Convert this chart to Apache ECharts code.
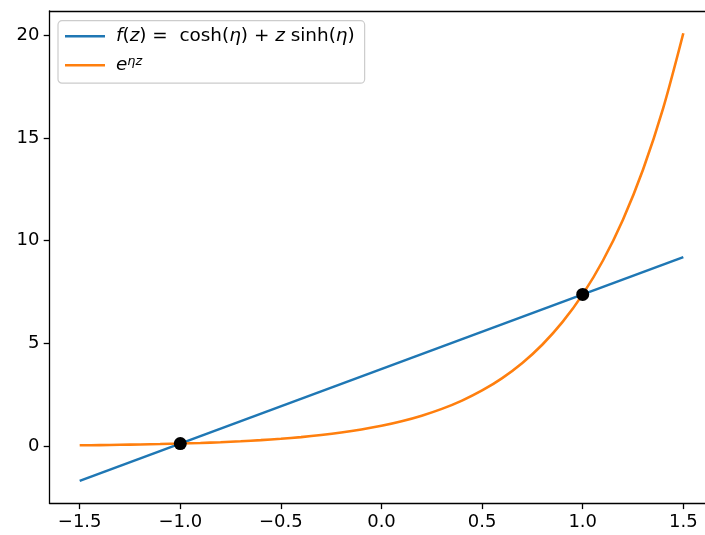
<!DOCTYPE html>
<html>
<head>
<meta charset="utf-8">
<script src="https://cdn.jsdelivr.net/npm/echarts@6/dist/echarts.min.js"></script>
<style>html,body{margin:0;padding:0;background:#fff;overflow:hidden;width:705px;height:535px}#c{width:714px;height:535px}</style>
</head>
<body>
<div id="c"></div>
<script>
const zValues = [-1.5,-1.4,-1.3,-1.2,-1.1,-1.0,-0.9,-0.8,-0.7,-0.6,-0.5,-0.4,-0.3,-0.2,-0.1,0.0,0.1,0.2,0.3,0.4,0.5,0.6,0.7,0.8,0.9,1.0,1.1,1.2,1.3,1.4,1.5];
const expValues = [0.050,0.061,0.074,0.091,0.111,0.135,0.165,0.202,0.247,0.301,0.368,0.449,0.549,0.670,0.819,1.000,1.221,1.492,1.822,2.226,2.718,3.320,4.055,4.953,6.050,7.389,9.025,11.023,13.464,16.445,20.086];
const lineZ = [-1.5, 1.5];
const lineValues = [-1.68, 9.20];
const crossZ = [-1.0, 1.0];
const crossValues = [0.135, 7.389];
const xTicks = [-1.5,-1.0,-0.5,0.0,0.5,1.0,1.5];
const yTicks = [0,5,10,15,20];

const FONT = 'DejaVu Sans';
const FS = 18;
const LFS = 18.4;
const minus = v => String(v).replace('-', '\u2212');

const chart = echarts.init(document.getElementById('c'), null, {renderer:'canvas'});
chart.setOption({
  animation: false,
  backgroundColor: '#ffffff',
  grid: {left: 49.5, top: 10.8, right: 0.5, bottom: 31.7, show: false, containLabel: false},
  xAxis: [{
    type: 'value', min: -1.65, max: 1.65,
    axisLine: {show: true, onZero: false, lineStyle: {color: '#000', width: 1.3}},
    axisTick: {show: true, length: 5.8, lineStyle: {color: '#000', width: 1.3}, customValues: xTicks},
    axisLabel: {customValues: xTicks, margin: 10, color: '#000', fontFamily: FONT, fontSize: FS,
      formatter: v => minus(v.toFixed(1))},
    splitLine: {show: false}
  }, {
    type: 'value', position: 'top', min: -1.65, max: 1.65,
    axisLine: {show: true, onZero: false, lineStyle: {color: '#000', width: 1.3}},
    axisTick: {show: false}, axisLabel: {show: false}, splitLine: {show: false}
  }],
  yAxis: {
    type: 'value', min: -2.77, max: 21.18,
    axisLine: {show: true, onZero: false, lineStyle: {color: '#000', width: 1.3}},
    axisTick: {show: true, length: 5.8, lineStyle: {color: '#000', width: 1.3}, customValues: yTicks},
    axisLabel: {customValues: yTicks, margin: 10, color: '#000', fontFamily: FONT, fontSize: FS,
      formatter: v => minus(Math.round(v))},
    splitLine: {show: false}
  },
  legend: {
    orient: 'vertical', left: 58, top: 20.7,
    padding: [5, 10, 7.5, 7],
    itemGap: 8, itemWidth: 40, itemHeight: 2.6, icon: 'rect',
    backgroundColor: 'rgba(255,255,255,0.8)', borderColor: '#cccccc', borderWidth: 1.2, borderRadius: 4,
    data: ['f', 'e'],
    formatter: function (name) {
      if (name === 'f') return '{i|f}({i|z}) =  cosh({i|\u03b7}) + {i|z} sinh({i|\u03b7})';
      return '{i|e}{sup|\u03b7z}';
    },
    textStyle: {
      fontFamily: FONT, fontSize: LFS, color: '#000', lineHeight: 21, padding: [0, 0, 0, 6],
      rich: {
        i: {fontStyle: 'italic', fontFamily: FONT, fontSize: LFS, lineHeight: 21, color: '#000'},
        sup: {fontStyle: 'italic', fontFamily: FONT, fontSize: 12.8, lineHeight: 21, verticalAlign: 'top', padding: [0, 0, 8, 0], color: '#000'}
      }
    }
  },
  series: [
    {name: 'f', type: 'line', data: lineZ.map((z, i) => [z, lineValues[i]]),
      showSymbol: false, symbol: 'none', color: '#1f77b4', lineStyle: {width: 2.6, color: '#1f77b4'}, z: 2},
    {name: 'e', type: 'line', data: zValues.map((z, i) => [z, expValues[i]]), smooth: 0.3,
      showSymbol: false, symbol: 'none', color: '#ff7f0e', lineStyle: {width: 2.6, color: '#ff7f0e'}, z: 3},
    {name: 'pts', type: 'scatter', data: crossZ.map((z, i) => [z, crossValues[i]]),
      symbol: 'circle', symbolSize: 13, itemStyle: {color: '#000', opacity: 1}, z: 5}
  ]
});
</script>
</body>
</html>
